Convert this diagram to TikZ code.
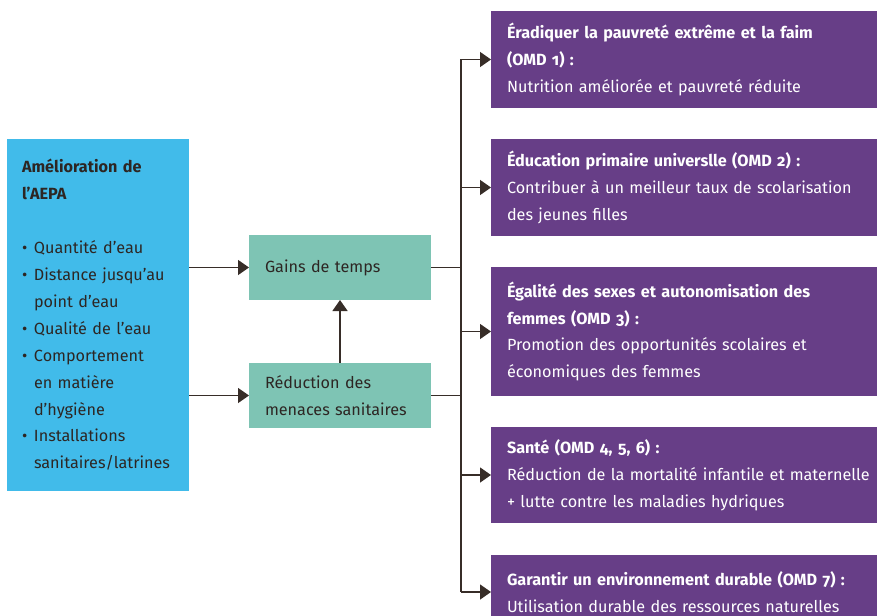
\documentclass[tikz,border=0pt]{standalone}
\usepackage{fontspec}
\setmainfont[Numbers=OldStyle]{Fira Sans}
\usepackage{tikz}
\usetikzlibrary{arrows.meta}
\usetikzlibrary{positioning}

\definecolor{bleu}{RGB}{65,187,234}
\definecolor{vert}{RGB}{126,196,180}
\definecolor{violet}{RGB}{103,62,135}
\definecolor{encre}{RGB}{45,38,35}
\definecolor{trait}{RGB}{55,45,40}

\newcommand{\puce}{\makebox[12pt][l]{\textbullet}}
\newcommand{\retrait}{\hspace*{12pt}}

\begin{document}
\begin{tikzpicture}[
  x=1pt,y=-1pt,
  ->,>={Triangle[length=11pt,width=15pt]},line width=1.4pt,draw=trait,
  every node/.style={font=\fontsize{16.2}{26.9}\selectfont,inner ysep=0pt,outer sep=0pt},
  aepabox/.style={fill=bleu,text=encre,minimum width=182,minimum height=352,text width=152,inner xsep=15,align=left},
  effet/.style={fill=vert,text=encre,minimum width=182,minimum height=65,text width=150,inner xsep=16,align=left},
  omd/.style={fill=violet,text=white,anchor=west,text width=390,inner xsep=16,align=left}]
      \useasboundingbox (0,0) rectangle (877,615);
      \clip (0,0) rectangle (877,615);

     \node [aepabox] (aepa) at (98,315)
      {\textbf{Amélioration de}\\\textbf{l’AEPA}\\[26.9pt]
       \puce Quantité d’eau\\
       \puce Distance jusqu’au\\\retrait point d’eau\\
       \puce Qualité de l’eau\\
       \puce Comportement\\\retrait en matière\\\retrait d’hygiène\\
       \puce Installations\\\retrait sanitaires/latrines};

     \node [effet] (gains) at (340,267.5) {Gains de temps};
     \node [effet] (reduc) at (340,395.5) {Réduction des\\menaces sanitaires};

     \node [omd,minimum height=97] (omd1) at (491,59.5)
      {\textbf{Éradiquer la pauvreté extrême et la faim}\\\textbf{(OMD 1) :}\\Nutrition améliorée et pauvreté réduite};
     \node [omd,minimum height=97] (omd2) at (491,187.5)
      {\textbf{Éducation primaire universlle (OMD 2) :}\\Contribuer à un meilleur taux de scolarisation\\des jeunes filles};
     \node [omd,minimum height=129] (omd3) at (491,331.5)
      {\textbf{Égalité des sexes et autonomisation des}\\\textbf{femmes (OMD 3) :}\\Promotion des opportunités scolaires et\\économiques des femmes};
     \node [omd,minimum height=96] (omd4) at (491,475)
      {\textbf{Santé (OMD 4, 5, 6) :}\\Réduction de la mortalité infantile et maternelle\\+ lutte contre les maladies hydriques};
     \node [omd,minimum height=74] (omd5) at (491,592)
      {\textbf{Garantir un environnement durable (OMD 7) :}\\Utilisation durable des ressources naturelles};

     \coordinate (tronc) at (461,0);

     \draw (aepa.east |- gains.west) -- (gains.west);
     \draw (aepa.east |- reduc.west) -- (reduc.west);
     \draw (reduc.north) -- (gains.south);

     % liaisons vers le tronc
     \draw[-] (gains.east) -- (gains.east -| tronc);
     \draw[-] (reduc.east) -- (reduc.east -| tronc);
     \draw[-] (tronc |- omd1.west) -- (tronc |- omd5.west);

     \foreach \cible in {omd1,omd2,omd3,omd4,omd5}
       \draw (tronc |- \cible.west) -- (\cible.west);

  \end{tikzpicture}
\end{document}
